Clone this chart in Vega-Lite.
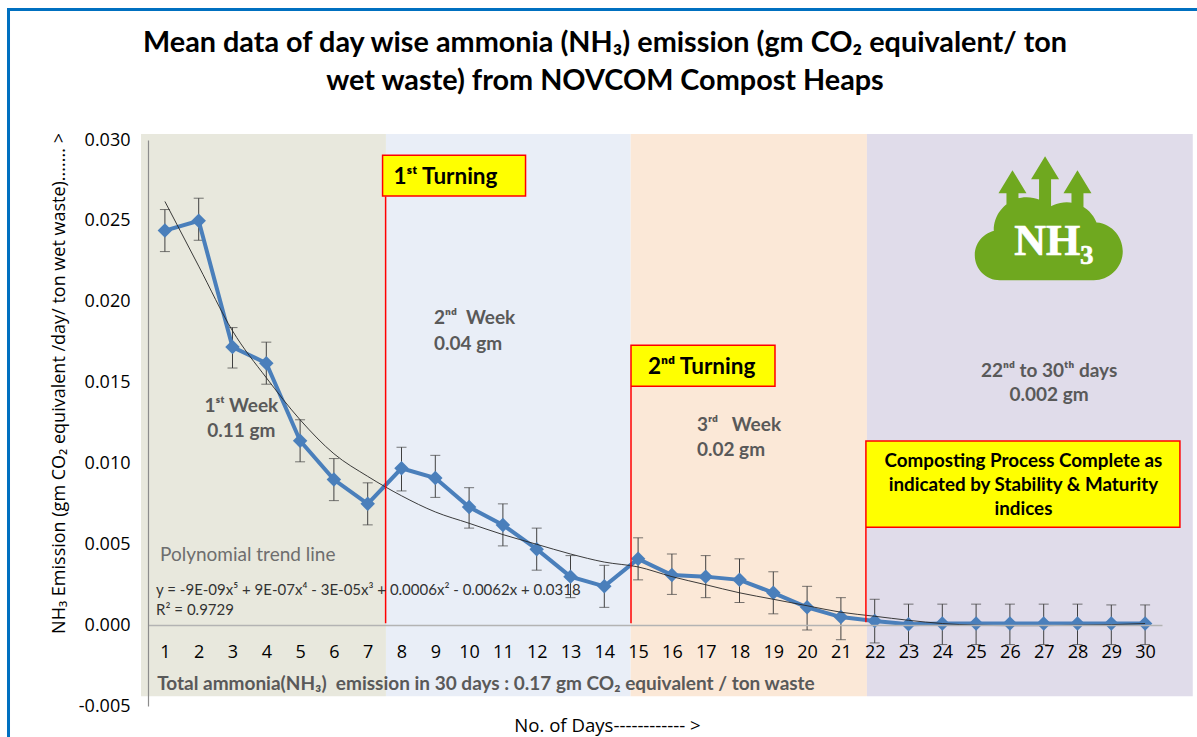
{
"$schema":"https://vega.github.io/schema/vega-lite/v6.json",
"autosize":"none",
"padding":{"left":148,"top":140,"right":35,"bottom":31},
"width":1014,"height":566,
"background":"white",
"view":{"stroke":null},
"config":{"axis":{"labelOverlap":false},"axisX":{"labelOverlap":false},"axisQuantitative":{"labelOverlap":false}},
"title":{"text":["Mean data of day wise ammonia (NH₃) emission (gm CO₂ equivalent/ ton","wet waste) from NOVCOM Compost Heaps"],"font":"Lato","fontWeight":"bold","fontSize":28.8,"lineHeight":38,"color":"#000000","anchor":"middle","frame":"group","dx":-50,"offset":-88},
"datasets":{
"daily":[
{"day":1,"value":0.0244,"low":0.0231,"high":0.0257},
{"day":2,"value":0.0250,"low":0.0238,"high":0.0264},
{"day":3,"value":0.0172,"low":0.0159,"high":0.0184},
{"day":4,"value":0.0162,"low":0.0149,"high":0.0175},
{"day":5,"value":0.0114,"low":0.0101,"high":0.0127},
{"day":6,"value":0.0090,"low":0.0077,"high":0.0103},
{"day":7,"value":0.0075,"low":0.0062,"high":0.0088},
{"day":8,"value":0.0097,"low":0.0083,"high":0.0110},
{"day":9,"value":0.0091,"low":0.0079,"high":0.0105},
{"day":10,"value":0.0073,"low":0.0060,"high":0.0085},
{"day":11,"value":0.0062,"low":0.0049,"high":0.0075},
{"day":12,"value":0.0047,"low":0.0034,"high":0.0060},
{"day":13,"value":0.0030,"low":0.0017,"high":0.0043},
{"day":14,"value":0.0024,"low":0.0011,"high":0.0037},
{"day":15,"value":0.0041,"low":0.0028,"high":0.0054},
{"day":16,"value":0.0031,"low":0.0019,"high":0.0044},
{"day":17,"value":0.0030,"low":0.0017,"high":0.0043},
{"day":18,"value":0.0028,"low":0.0014,"high":0.0041},
{"day":19,"value":0.0020,"low":0.0007,"high":0.0033},
{"day":20,"value":0.0011,"low":-0.0003,"high":0.0024},
{"day":21,"value":0.0005,"low":-0.0009,"high":0.0017},
{"day":22,"value":0.00025,"low":-0.0011,"high":0.0016},
{"day":23,"value":0.00005,"low":-0.0012,"high":0.0013},
{"day":24,"value":0.0001,"low":-0.0012,"high":0.0013},
{"day":25,"value":0.0001,"low":-0.0012,"high":0.0013},
{"day":26,"value":0.0001,"low":-0.0012,"high":0.0013},
{"day":27,"value":0.0001,"low":-0.0012,"high":0.0013},
{"day":28,"value":0.0001,"low":-0.0012,"high":0.0013},
{"day":29,"value":0.0001,"low":-0.0012,"high":0.00125},
{"day":30,"value":0.0001,"low":-0.0012,"high":0.00125}
],
"trend":[
{"day":1,"value":0.0262},{"day":2,"value":0.0222},{"day":3,"value":0.0182},{"day":4,"value":0.0153},{"day":5,"value":0.0127},{"day":6,"value":0.0106},{"day":7,"value":0.0092},{"day":8,"value":0.0080},{"day":9,"value":0.0070},{"day":10,"value":0.0063},{"day":11,"value":0.0056},{"day":12,"value":0.0050},{"day":13,"value":0.0044},{"day":14,"value":0.0039},{"day":15,"value":0.0036},{"day":16,"value":0.0030},{"day":17,"value":0.0025},{"day":18,"value":0.0020},{"day":19,"value":0.0016},{"day":20,"value":0.0012},{"day":21,"value":0.0008},{"day":22,"value":0.00055},{"day":23,"value":0.0003},{"day":24,"value":0.0001},{"day":25,"value":0.0},{"day":26,"value":-0.00003},{"day":27,"value":-0.00003},{"day":28,"value":0.0},{"day":29,"value":0.00003},{"day":30,"value":0.0001}
],
"bands":[
{"from":0.293,"to":7.54,"top":0.03037,"bottom":-0.00439,"period":"week1"},
{"from":7.54,"to":14.78,"top":0.03037,"bottom":-0.00439,"period":"week2"},
{"from":14.78,"to":21.77,"top":0.03037,"bottom":-0.00439,"period":"week3"},
{"from":21.77,"to":31.41,"top":0.03037,"bottom":-0.00439,"period":"rest"}
],
"turnings":[
{"day":7.53,"top":0.0265,"bottom":0.00012},
{"day":14.79,"top":0.01472,"bottom":0.00012},
{"day":21.74,"top":0.006,"bottom":0.00018}
],
"boxes":[
{"from":7.44,"to":11.67,"top":0.02906,"bottom":0.02653},
{"from":14.79,"to":19.05,"top":0.01731,"bottom":0.01478},
{"from":21.74,"to":31.03,"top":0.01138,"bottom":0.00606}
],
"boxText":[
{"day":9.3,"value":0.02775,"label":"1ˢᵗ Turning"},
{"day":16.88,"value":0.01602,"label":"2ⁿᵈ Turning"}
],
"boxNote":[
{"day":26.4,"value":0.01020,"label":"Composting Process Complete as"},
{"day":26.4,"value":0.00872,"label":"indicated by Stability & Maturity"},
{"day":26.4,"value":0.00723,"label":"indices"}
],
"weekCentre":[
{"day":3.26,"value":0.01360,"label":"1ˢᵗ Week"},
{"day":3.26,"value":0.01206,"label":"0.11 gm"},
{"day":27.16,"value":0.01577,"label":"22ⁿᵈ to 30ᵗʰ days"},
{"day":27.16,"value":0.01429,"label":"0.002 gm"}
],
"weekLeft":[
{"day":8.96,"value":0.01905,"label":"2ⁿᵈ\u00a0\u00a0Week"},
{"day":8.96,"value":0.01744,"label":"0.04 gm"},
{"day":16.74,"value":0.01243,"label":"3ʳᵈ\u00a0\u00a0\u00a0Week"},
{"day":16.74,"value":0.01088,"label":"0.02 gm"}
],
"note":[{"day":0.855,"value":0.00433,"label":"Polynomial trend line"}],
"equation":[
{"day":0.74,"value":0.00223,"label":"y = -9E-09x⁵ + 9E-07x⁴ - 3E-05x³ + 0.0006x² - 0.0062x + 0.0318"},
{"day":0.74,"value":0.00099,"label":"R² = 0.9729"}
],
"total":[{"day":0.77,"value":-0.00359,"label":"Total ammonia(NH₃)\u00a0\u00a0emission in 30 days : 0.17 gm CO₂ equivalent / ton waste"}],
"icon":[{"day":27.15,"value":0.02504}],
"iconText":[{"day":27.3,"value":0.02370,"label":"NH₃"}],
"frame":[{"from":-3.627,"to":32.5,"top":0.03807,"bottom":-0.0085}]
},
"encoding":{
"x":{"field":"day","type":"quantitative","scale":{"domain":[0.5,30.5],"nice":false,"zero":false},"axis":{"orient":"bottom","offset":-81,"values":[1,2,3,4,5,6,7,8,9,10,11,12,13,14,15,16,17,18,19,20,21,22,23,24,25,26,27,28,29,30],"format":"d","labelOverlap":false,"labelBound":false,"labelFlush":false,"ticks":false,"grid":false,"domain":true,"domainColor":"#b3b3b3","domainWidth":1.5,"labelFont":"Open Sans","labelFontSize":18,"labelColor":"#000000","labelPadding":18,"zindex":1,"title":"No. of Days------------ >","titleFont":"Open Sans","titleFontSize":18.6,"titleFontWeight":"normal","titleColor":"#000000","titleX":459,"titleY":100,"titleAnchor":"middle","titleBaseline":"middle"}},
"y":{"field":"value","type":"quantitative","scale":{"domain":[-0.005,0.03],"nice":false,"zero":false}}
},
"layer":[
{"data":{"name":"bands"},"mark":{"type":"rect","clip":false},
 "encoding":{"x":{"field":"from","type":"quantitative"},
  "x2":{"field":"to"},
  "y":{"field":"top","type":"quantitative","axis":{"orient":"left","values":[-0.005,0,0.005,0.01,0.015,0.02,0.025,0.03],"format":".3f","labelExpr":"replace(datum.label,'−','-')","labelOverlap":false,"labelBound":false,"labelFlush":false,"ticks":false,"grid":false,"domain":true,"domainColor":"#8c8c8c","domainWidth":1.2,"labelFont":"Open Sans","labelFontSize":18,"labelColor":"#000000","labelPadding":18,"zindex":1,"title":"NH₃ Emission (gm CO₂ equivalent /day/ ton wet waste)....... >","titleFont":"Open Sans","titleFontSize":18,"titleFontWeight":"normal","titleColor":"#000000","titleX":-89,"titleY":243,"titleAnchor":"middle","titleBaseline":"middle"}},
  "y2":{"field":"bottom"},
  "color":{"field":"period","type":"nominal","legend":null,"scale":{"domain":["week1","week2","week3","rest"],"range":["#e8e8dd","#e9eef7","#fbe8d7","#e0dcea"]}}}},
{"data":{"name":"frame"},"mark":{"type":"rect","clip":false,"fill":null,"stroke":"#0070c0","strokeWidth":3},
 "encoding":{"x":{"field":"from","type":"quantitative"},"x2":{"field":"to"},"y":{"field":"top","type":"quantitative"},"y2":{"field":"bottom"}}},
{"data":{"name":"daily"},"mark":{"type":"rule","color":"#404040","strokeWidth":1},
 "encoding":{"y":{"field":"low","type":"quantitative"},"y2":{"field":"high"}}},
{"data":{"name":"daily"},"mark":{"type":"tick","orient":"horizontal","color":"#404040","size":10,"thickness":1},
 "encoding":{"y":{"field":"low","type":"quantitative"}}},
{"data":{"name":"daily"},"mark":{"type":"tick","orient":"horizontal","color":"#404040","size":10,"thickness":1},
 "encoding":{"y":{"field":"high","type":"quantitative"}}},
{"data":{"name":"daily"},"mark":{"type":"line","color":"#4a7fbb","strokeWidth":4}},
{"data":{"name":"daily"},"mark":{"type":"point","shape":"diamond","filled":true,"color":"#4a7fbb","opacity":1,"size":210}},
{"data":{"name":"trend"},"mark":{"type":"line","color":"#262626","strokeWidth":0.9,"interpolate":"monotone"}},
{"data":{"name":"turnings"},"mark":{"type":"rule","color":"#ff0000","strokeWidth":1.5},
 "encoding":{"y":{"field":"top","type":"quantitative"},"y2":{"field":"bottom"}}},
{"data":{"name":"boxes"},"mark":{"type":"rect","fill":"#ffff00","stroke":"#ff0000","strokeWidth":1.5,"clip":false},
 "encoding":{"x":{"field":"from","type":"quantitative"},"x2":{"field":"to"},"y":{"field":"top","type":"quantitative"},"y2":{"field":"bottom"}}},
{"data":{"name":"boxText"},"mark":{"type":"text","font":"Lato","fontWeight":"bold","fontSize":22.5,"dy":1,"color":"#000000"},"encoding":{"text":{"field":"label"}}},
{"data":{"name":"boxNote"},"mark":{"type":"text","font":"Lato","fontWeight":"bold","fontSize":18.8,"dy":1,"color":"#000000"},"encoding":{"text":{"field":"label"}}},
{"data":{"name":"weekCentre"},"mark":{"type":"text","font":"Lato","fontWeight":"bold","fontSize":19,"dy":1,"color":"#595959"},"encoding":{"text":{"field":"label"}}},
{"data":{"name":"weekLeft"},"mark":{"type":"text","font":"Lato","fontWeight":"bold","fontSize":19,"dy":1,"color":"#595959","align":"left"},"encoding":{"text":{"field":"label"}}},
{"data":{"name":"note"},"mark":{"type":"text","font":"Lato","fontSize":19,"dy":0,"color":"#6e6e6e","align":"left"},"encoding":{"text":{"field":"label"}}},
{"data":{"name":"equation"},"mark":{"type":"text","font":"Lato","fontSize":15,"dy":1,"color":"#333333","align":"left"},"encoding":{"text":{"field":"label"}}},
{"data":{"name":"total"},"mark":{"type":"text","font":"Lato","fontWeight":"bold","fontSize":19,"dy":1,"color":"#595959","align":"left"},"encoding":{"text":{"field":"label"}}},
{"data":{"name":"icon"},"mark":{"type":"point","filled":true,"color":"#6fa81f","opacity":1,"size":40000,"shape":"M-0.037 -0.64L-0.177 -0.41L-0.097 -0.41L-0.097 -0.1L0.023 -0.1L0.023 -0.41L0.103 -0.41ZM-0.363 -0.5L-0.503 -0.27L-0.423 -0.27L-0.423 -0.05L-0.303 -0.05L-0.303 -0.27L-0.223 -0.27ZM0.287 -0.5L0.147 -0.27L0.227 -0.27L0.227 -0.05L0.347 -0.05L0.347 -0.27L0.427 -0.27ZM-0.74 0.35a0.25 0.25 0 1 0 0.5 0a0.25 0.25 0 1 0 -0.5 0ZM0.16 0.31a0.29 0.29 0 1 0 0.58 0a0.29 0.29 0 1 0 -0.58 0ZM-0.55 0.1a0.33 0.33 0 1 0 0.66 0a0.33 0.33 0 1 0 -0.66 0ZM-0.14 0.14a0.32 0.32 0 1 0 0.64 0a0.32 0.32 0 1 0 -0.64 0ZM-0.49 0.6L0.45 0.6L0.45 0.1L-0.49 0.1Z"}},
{"data":{"name":"iconText"},"mark":{"type":"text","font":"Liberation Serif","fontWeight":"bold","fontSize":44,"color":"#ffffff","stroke":"#ffffff","strokeWidth":0.7},"encoding":{"text":{"field":"label"}}}
]
}
